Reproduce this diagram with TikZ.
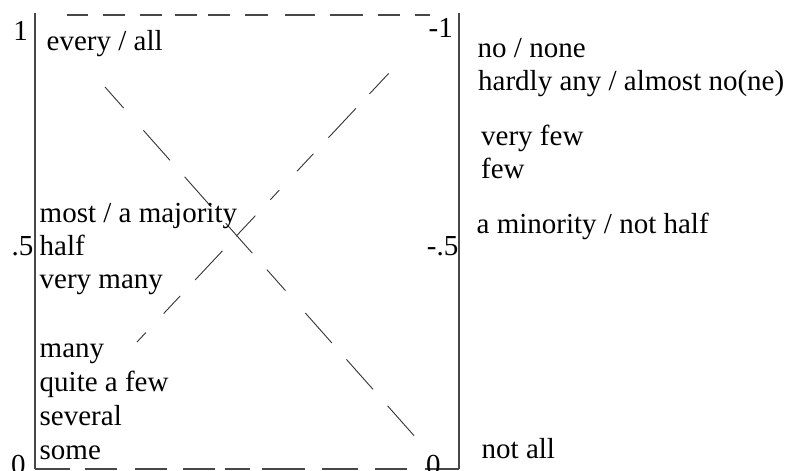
\documentclass[tikz,border=0pt]{standalone}
\usepackage{fontspec}
\setmainfont{Liberation Serif}
\begin{document}
\begin{tikzpicture}[x=1pt,y=-1pt,
  lbl/.style={anchor=base west,inner sep=0pt,font=\fontsize{29}{33}\selectfont},
  numr/.style={anchor=base east,inner sep=0pt,font=\fontsize{29}{33}\selectfont},
  numl/.style={anchor=base west,inner sep=0pt,font=\fontsize{29}{33}\selectfont},
  axis/.style={line width=1.6pt,draw=black!72},
  frame/.style={line width=1.6pt,draw=black!72},
  diag/.style={line width=0.9pt,draw=black!80}]
\useasboundingbox (0,0) rectangle (788,471);
\clip (0,0) rectangle (788,471);
% axes
\coordinate (LT) at (35,13);
\coordinate (LB) at (35,469);
\coordinate (RT) at (459,13);
\coordinate (RB) at (459,469);
\draw[axis] (LT) -- (LB);
\draw[axis] (RT) -- (RB);
% top dashed line
\coordinate (TS) at (67,15);
\coordinate (TE) at (430,15);
\draw[frame,dash pattern=on 21pt off 15pt on 22pt off 15pt on 22pt off 13pt on 22pt off 11pt on 22pt off 15pt on 23pt off 17pt on 30pt off 15pt on 33pt off 15pt on 22pt off 15pt on 20pt off 20pt] (TS) -- (TE);
% bottom dashed line
\draw[frame,dash pattern=on 35pt off 15pt on 32pt off 18pt on 32pt off 16pt on 32pt off 10pt on 25pt off 12pt on 43pt off 17pt on 36pt off 17pt on 32pt off 18pt on 40pt off 10pt] (LB) -- (RB);
% diagonals
\coordinate (A1) at (105,87);
\coordinate (A2) at (417,439);
\coordinate (B1) at (137,342);
\coordinate (B2) at (390,72);
\draw[diag,dash pattern=on 28pt off 30pt on 40pt off 22pt on 40pt off 22pt on 40pt off 22pt] (A1) -- (A2);
\draw[diag,dash pattern=on 13pt off 26pt on 24pt off 22pt on 40pt off 20pt on 28pt off 22pt] (B1) -- (B2);
% numbers
\node[numr] (n1) at (28,40) {1};
\node[numr] (n5) at (33.5,255) {.5};
\node[numl] (n0) at (11,474.5) {0};
\node[numr] (m1) at (453,37) {-1};
\node[numr] (m5) at (458.5,255) {-.5};
\node[numl] (m0) at (426,474.5) {0};
% left texts
\node[lbl] (every) at (46.5,50) {every / all};
\node[lbl] (most) at (39.5,222) {most / a majority};
\node[lbl] (half) at (39.5,255) {half};
\node[lbl] (verymany) at (39.5,288) {very many};
\node[lbl] (many) at (39.5,357) {many};
\node[lbl] (quite) at (39.5,391) {quite a few};
\node[lbl] (several) at (39.5,425) {several};
\node[lbl] (some) at (39.5,459) {some};
% right texts
\node[lbl] (none) at (477.5,57) {no / none};
\node[lbl] (hardly) at (478,90) {hardly any / almost no(ne)};
\node[lbl] (veryfew) at (481,145) {very few};
\node[lbl] (few) at (481,178) {few};
\node[lbl] (minority) at (476.5,233) {a minority / not half};
\node[lbl] (notall) at (481.5,458) {not all};
\end{tikzpicture}
\end{document}
